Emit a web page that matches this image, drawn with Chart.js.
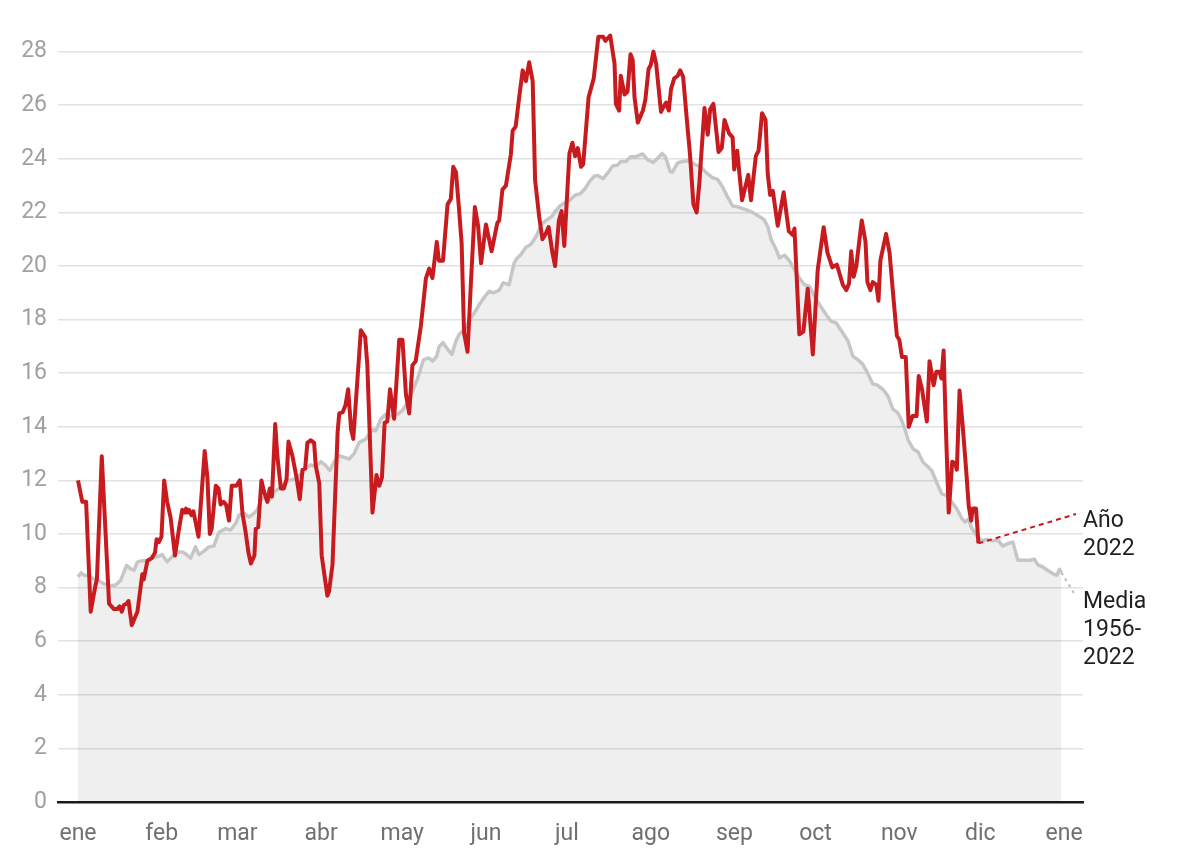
<!DOCTYPE html>
<html lang="es">
<head>
  <meta charset="UTF-8" />
  <title>Temperatura media diaria 2022</title>
  <script src="https://cdn.jsdelivr.net/npm/chart.js"></script>
  <style>
    body { margin: 0; background: #fff; }
    canvas { display: block; }
  </style>
</head>
<body>
  <canvas id="chart" width="1188" height="862"></canvas>

  <script>
    // Año 2022 (día del año, temperatura)
    const dias2022 = [0, 1.6, 3, 4.7, 6.5, 7, 8.8, 11.5, 13.3, 14.5, 15.4, 16.2, 17, 18, 18.7, 19.9, 22, 23.8, 24.3, 25.7,
      27.3, 28.5, 29.1, 30, 30.9, 31.9, 33, 34.3, 35.9, 37.4, 38.6, 39.5, 40, 40.5, 41.1, 42, 42.7, 44.6, 46.9, 47.9,
      48.8, 49.5, 51, 52, 52.8, 53.9, 54.8, 55.9, 56.9, 58.6, 59.9, 60.9, 62, 63.1, 64, 65.3, 65.8, 66.7, 67.9, 68.8,
      70.1, 71, 71.8, 73, 73.8, 75.1, 76.2, 77.2, 77.9, 79.4, 80.9, 82.1, 83.1, 84.1, 84.9, 86.2, 87.4, 88, 89.3, 90.2,
      92.3, 92.9, 94.2, 96.1, 96.7, 98, 99, 100, 101.1, 101.9, 104.7, 106.3, 107.1, 109, 110.5, 111.5, 112.5, 113.5, 114.5, 115.5,
      117, 118.9, 120.1, 121.4, 122.6, 123.8, 125, 126.9, 128.8, 130, 131.2, 132.8, 133.6, 135.1, 136.8, 138, 138.9, 139.9, 140.9, 142,
      142.9, 144.2, 145.4, 146.9, 148.1, 149.2, 151, 153.1, 154, 155.2, 155.9, 157.1, 158.4, 160.2, 160.9, 162, 163.3, 164.6, 165.8, 167,
      168.3, 169.2, 170.7, 171.9, 173.1, 174.2, 175.6, 176.6, 178, 179, 180, 181.9, 183, 184, 185, 186.2, 187, 189, 190.9, 192.6,
      194.4, 195.2, 197, 198.6, 199.1, 200.3, 200.9, 202.3, 203.4, 204.5, 205.3, 206, 207.2, 209.1, 210, 211.2, 212, 213, 214, 215.8,
      216.5, 217.7, 218.7, 219.5, 220.7, 222, 222.9, 224, 225.5, 226.5, 227.8, 229, 230, 231.9, 233.1, 234, 235.2, 237.1, 238.3, 239.3,
      241, 242.3, 242.9, 244, 245.8, 248.1, 249.1, 250.9, 251.9, 253.2, 254.5, 255.3, 256.2, 257.2, 259, 261.2, 263.1, 264.6, 265.2, 267,
      268.5, 270.1, 272, 273.8, 276, 277.4, 279.2, 280.9, 283.1, 284.4, 285.4, 286.2, 287.1, 288.1, 290.1, 291.5, 292.2, 293.3, 294.2, 295.5,
      296.3, 297, 299.1, 300.4, 301.8, 303.1, 304, 305, 306.4, 307.5, 308.9, 310.4, 311.2, 312.4, 314.2, 315.2, 316.7, 317.7, 318.9, 319.6,
      320.4, 321.1, 322.3, 323.6, 324.8, 325.3, 326.3, 327.5, 328.7, 329.7, 330.6, 331.2, 332.4, 333.3];
    const temp2022 = [12.0, 11.2, 11.2, 7.1, 8.1, 8.3, 12.9, 7.4, 7.2, 7.2, 7.3, 7.1, 7.35, 7.4, 7.5, 6.6, 7.1, 8.5, 8.3, 9.0,
      9.1, 9.3, 9.8, 9.7, 9.9, 12.0, 11.2, 10.6, 9.2, 10.2, 10.9, 10.8, 10.95, 10.8, 10.9, 10.7, 10.85, 9.9, 13.1, 12.1,
      10.0, 10.2, 11.8, 11.7, 11.1, 11.2, 11.1, 10.5, 11.8, 11.8, 12.0, 10.75, 10.1, 9.3, 8.9, 9.2, 10.2, 10.25, 12.0, 11.6,
      11.2, 11.7, 11.4, 14.1, 12.9, 11.7, 11.7, 12.05, 13.45, 12.9, 12.1, 11.3, 12.4, 12.45, 13.4, 13.5, 13.4, 12.55, 11.9, 9.2,
      7.7, 7.85, 8.85, 13.8, 14.5, 14.55, 14.8, 15.4, 13.9, 13.55, 17.6, 17.35, 16.3, 10.8, 12.2, 11.8, 12.1, 14.15, 14.2, 15.4,
      14.3, 17.25, 17.25, 15.2, 14.5, 16.3, 16.45, 17.75, 19.55, 19.9, 19.55, 20.9, 20.2, 20.2, 22.3, 22.5, 23.7, 23.5, 22.3, 20.85,
      17.5, 16.8, 19.3, 22.2, 21.5, 20.1, 21.55, 20.55, 21.0, 21.6, 21.7, 22.85, 23.0, 24.15, 25.05, 25.2, 26.3, 27.3, 26.9, 27.6,
      26.9, 23.2, 21.85, 21.0, 21.2, 21.45, 20.5, 20.0, 21.7, 22.05, 20.75, 24.2, 24.6, 24.1, 24.4, 23.7, 23.8, 26.3, 27.0, 28.55,
      28.55, 28.4, 28.6, 27.55, 26.05, 25.8, 27.1, 26.4, 26.5, 27.9, 27.7, 26.3, 25.35, 25.8, 26.2, 27.35, 27.5, 28.0, 27.55, 25.75,
      25.9, 26.1, 25.8, 26.6, 27.0, 27.1, 27.3, 27.05, 25.3, 24.2, 22.3, 22.0, 23.1, 25.9, 24.9, 25.85, 26.05, 24.25, 24.4, 25.45,
      24.95, 24.8, 23.6, 24.3, 22.45, 23.4, 22.45, 24.1, 24.3, 25.7, 25.45, 23.45, 22.65, 22.8, 21.5, 22.75, 21.3, 21.15, 21.4, 17.45,
      17.55, 19.15, 16.7, 19.85, 21.45, 20.5, 19.95, 20.05, 19.3, 19.1, 19.35, 20.55, 19.6, 20.0, 21.7, 20.9, 19.4, 19.1, 19.4, 19.3,
      18.7, 20.2, 21.2, 20.5, 18.85, 17.4, 17.25, 16.6, 16.6, 14.0, 14.4, 14.4, 15.9, 15.4, 14.2, 16.45, 15.55, 16.05, 16.05, 15.8,
      16.85, 14.4, 10.8, 12.7, 12.6, 12.4, 15.35, 14.0, 12.45, 11.05, 10.5, 10.95, 10.95, 9.65];

    // Media 1956-2022
    const diasMedia = [0, 1.2, 2.5, 4, 5.6, 7.5, 9.3, 12.1, 14, 15.8, 16.7, 18, 19.5, 20.8, 22, 23.8, 25.7, 27.5, 29.4, 31.2,
      33, 34.9, 36.7, 38.6, 39.8, 41.7, 43.5, 44.8, 46.6, 48.5, 50.3, 52.2, 54.7, 56.5, 58.4, 59.6, 61.5, 63.3, 65.1, 66.4,
      68.2, 70.7, 72.6, 74.4, 76.3, 78.1, 80.6, 82.4, 84.3, 86.1, 88, 89.9, 91.7, 93.2, 94.8, 96.7, 98.5, 100.4, 102.2, 104.1,
      106.5, 109, 110.2, 112.1, 113.9, 115.8, 118, 120, 122.6, 124.5, 125.7, 127.9, 129.8, 131.3, 132.8, 133.7, 135.1, 136.8, 138.4, 139.9,
      141.1, 143, 145.1, 147, 148.9, 150.7, 152.2, 154, 155.9, 157.4, 159.6, 161.4, 162.6, 163.9, 165.8, 167.6, 169.6, 171.5, 173.3, 175.4,
      176.7, 178.5, 180, 182.2, 184.1, 186, 187.8, 189.3, 191.1, 192.3, 194.4, 196.3, 197.9, 199.8, 200.9, 202.8, 204.6, 206.5, 209, 210.9,
      212.9, 214.4, 216.2, 217.4, 219.2, 220, 222, 223.7, 226.2, 228.7, 230.6, 232.3, 234.8, 236.8, 238.6, 240.5, 242.3, 244.5, 246, 247.9,
      249.7, 252.2, 254, 255.3, 256.6, 258.5, 259.6, 261.5, 263.3, 265.2, 267, 268.9, 270.7, 272.6, 274.4, 276.9, 278.7, 280.6, 283.1, 285,
      286.8, 288.7, 290.5, 292.3, 294.2, 296, 297.9, 299.8, 301.6, 303.4, 304.7, 306.1, 307.3, 309.2, 311, 312.8, 314.7, 316, 317.8, 319.7,
      321.5, 323.4, 325.3, 327.2, 328.4, 329.7, 330.6, 332.5, 334.4, 336.5, 338.3, 340.5, 342.3, 344.2, 346, 347.9, 349.7, 352.2, 354, 355.3,
      357.1, 359, 360.9, 362.3, 363.3, 364];
    const tempMedia = [8.4, 8.55, 8.45, 8.45, 8.33, 8.27, 8.15, 8.07, 8.1, 8.27, 8.5, 8.83, 8.7, 8.65, 8.95, 9.0, 9.0, 9.1, 9.15, 9.23,
      8.96, 9.15, 9.33, 9.33, 9.26, 9.1, 9.52, 9.23, 9.36, 9.52, 9.55, 10.07, 10.2, 10.15, 10.4, 10.7, 10.77, 10.63, 10.77, 10.9,
      11.37, 11.25, 11.56, 11.7, 11.87, 12.0, 12.06, 12.24, 12.43, 12.58, 12.5, 12.7, 12.55, 12.37, 12.68, 12.92, 12.86, 12.8, 13.0, 13.42,
      13.54, 13.9, 13.85, 14.28, 14.47, 14.4, 14.45, 14.6, 15.0, 15.5, 15.8, 16.5, 16.57, 16.45, 16.64, 17.0, 17.14, 16.9, 16.7, 17.2,
      17.45, 17.63, 18.0, 18.3, 18.62, 18.87, 19.06, 19.0, 19.1, 19.37, 19.3, 20.1, 20.3, 20.42, 20.7, 20.8, 21.1, 21.55, 21.7, 21.85,
      22.05, 22.25, 22.34, 22.47, 22.65, 22.7, 22.9, 23.15, 23.35, 23.38, 23.26, 23.5, 23.73, 23.77, 23.9, 23.9, 24.08, 24.08, 24.18, 23.96,
      23.86, 24.0, 24.2, 24.08, 23.52, 23.5, 23.85, 23.9, 23.93, 23.77, 23.7, 23.5, 23.3, 23.23, 22.95, 22.56, 22.24, 22.2, 22.14, 22.08,
      22.0, 21.85, 21.72, 21.47, 20.98, 20.6, 20.3, 20.4, 20.2, 19.86, 19.55, 19.3, 19.24, 18.87, 18.56, 18.19, 17.94, 17.88, 17.5, 17.2,
      16.64, 16.5, 16.33, 16.0, 15.6, 15.55, 15.4, 15.15, 14.66, 14.53, 14.28, 13.91, 13.5, 13.17, 13.05, 12.68, 12.5, 12.37, 11.93, 11.5,
      11.44, 11.19, 10.94, 10.57, 10.45, 10.57, 10.26, 9.95, 9.75, 9.8, 9.75, 9.77, 9.55, 9.64, 9.7, 9.02, 9.02, 9.02, 9.06, 8.85,
      8.77, 8.64, 8.52, 8.46, 8.68, 8.56];

    const inicioMes = [0, 31, 59, 90, 120, 151, 181, 212, 243, 273, 304, 334, 365];
    const nombreMes = ['ene', 'feb', 'mar', 'abr', 'may', 'jun', 'jul', 'ago', 'sep', 'oct', 'nov', 'dic', 'ene'];
    const ticksY = [0, 2, 4, 6, 8, 10, 12, 14, 16, 18, 20, 22, 24, 26, 28];

    const rojo = '#c81b1f';
    const gris = '#c6c6c6';
    const FONT = 'Roboto, "Noto Sans", sans-serif';

    const toPoints = (xs, ys) => xs.map((x, i) => ({ x: x, y: ys[i] }));

    // etiquetas a la derecha con líneas guía
    const etiquetas = {
      id: 'etiquetas',
      afterDatasetsDraw(chart) {
        const { ctx, chartArea, scales } = chart;
        const xr = chartArea.right;
        const lastR = dias2022.length - 1;
        const lastM = diasMedia.length - 1;
        const rx = scales.x.getPixelForValue(dias2022[lastR]);
        const ry = scales.y.getPixelForValue(temp2022[lastR]);
        const mx = scales.x.getPixelForValue(diasMedia[lastM]);
        const my = scales.y.getPixelForValue(tempMedia[lastM]);
        ctx.save();
        ctx.lineWidth = 2;
        ctx.strokeStyle = rojo;
        ctx.setLineDash([5, 4]);
        ctx.beginPath();
        ctx.moveTo(rx, ry);
        ctx.lineTo(xr - 7, 514);
        ctx.stroke();
        ctx.strokeStyle = '#bdbdbd';
        ctx.setLineDash([3, 4]);
        ctx.beginPath();
        ctx.moveTo(mx, my);
        ctx.lineTo(xr - 8, 595);
        ctx.stroke();
        ctx.setLineDash([]);
        ctx.fillStyle = '#1f1f1f';
        ctx.font = '23px ' + FONT;
        ctx.textAlign = 'left';
        ctx.textBaseline = 'alphabetic';
        ctx.fillText('Año', xr, 527);
        ctx.fillText('2022', xr, 555);
        ctx.fillText('Media', xr, 608);
        ctx.fillText('1956-', xr, 636);
        ctx.fillText('2022', xr, 664);
        ctx.restore();
      }
    };

    new Chart(document.getElementById('chart').getContext('2d'), {
      type: 'line',
      data: {
        datasets: [
          {
            label: 'Año 2022',
            data: toPoints(dias2022, temp2022),
            borderColor: rojo,
            borderWidth: 4,
            pointRadius: 0,
            tension: 0,
            fill: false,
            borderJoinStyle: 'round'
          },
          {
            label: 'Media 1956-2022',
            data: toPoints(diasMedia, tempMedia),
            borderColor: gris,
            borderWidth: 3.5,
            backgroundColor: 'rgba(0,0,0,0.063)',
            pointRadius: 0,
            tension: 0,
            fill: 'origin',
            borderJoinStyle: 'round'
          }
        ]
      },
      options: {
        responsive: false,
        animation: false,
        devicePixelRatio: 1,
        layout: { padding: { left: 0, right: 105, top: 22, bottom: 0 } },
        plugins: {
          legend: { display: false },
          tooltip: { enabled: false }
        },
        scales: {
          x: {
            type: 'linear',
            min: -7.4,
            max: 372,
            grid: { display: false },
            border: { display: true, color: '#1a1a1a', width: 2.5, z: 1 },
            afterBuildTicks: (scale) => { scale.ticks = inicioMes.map(v => ({ value: v })); },
            afterFit: (scale) => { scale.height = 60; },
            ticks: {
              autoSkip: false,
              maxRotation: 0,
              padding: 10,
              color: '#707070',
              font: { family: FONT, size: 23 },
              callback: (value, index) => nombreMes[index]
            }
          },
          y: {
            min: 0,
            max: 29,
            border: { display: false },
            grid: { color: '#e2e2e2', lineWidth: 1.5, drawTicks: false },
            afterBuildTicks: (scale) => { scale.ticks = ticksY.map(v => ({ value: v })); },
            afterFit: (scale) => { scale.width = 58; },
            ticks: {
              padding: 11,
              color: '#a0a0a0',
              font: { family: FONT, size: 23 },
              callback: (value) => value
            }
          }
        }
      },
      plugins: [etiquetas]
    });
  </script>
</body>
</html>
